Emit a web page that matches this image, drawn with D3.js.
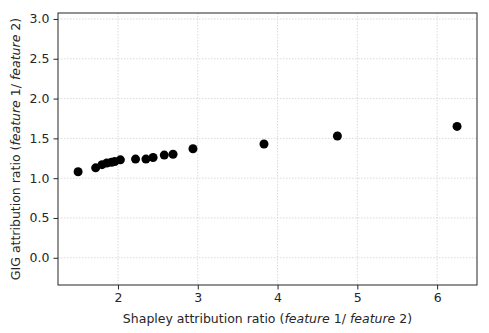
<!DOCTYPE html>
<html>
<head>
    <meta charset="utf-8">
    <style>
        body { margin: 0; background: #fff; }
        text { font-family: "DejaVu Sans", sans-serif; fill: #262626; }
    </style>
</head>
<body>
    <svg width="489" height="333"></svg>
    <script src="https://d3js.org/d3.v7.min.js"></script>
    <script>
        let shapleyRatio = [1.50, 1.72, 1.80, 1.86, 1.92, 1.96, 2.03, 2.22, 2.35, 2.44, 2.58, 2.69, 2.94, 3.83, 4.75, 6.25];
        let gigRatio = [1.08, 1.13, 1.17, 1.19, 1.20, 1.21, 1.23, 1.24, 1.24, 1.26, 1.29, 1.30, 1.37, 1.43, 1.53, 1.65];
        let xTicks = [2, 3, 4, 5, 6];
        let yTicks = [0.0, 0.5, 1.0, 1.5, 2.0, 2.5, 3.0];

        let plotLeft = 58, plotRight = 477, plotTop = 13, plotBottom = 285;
        let fontSize = "12.5px";
        let svg = d3.select("svg");
        let x = d3.scaleLinear().domain([1.248, 6.5]).range([plotLeft, plotRight]);
        let y = d3.scaleLinear().domain([-0.342, 3.075]).range([plotBottom, plotTop]);

        // grid
        let grid = svg.append("g")
            .attr("stroke", "#dadada")
            .attr("stroke-width", 1)
            .attr("stroke-dasharray", "1.5,1.5");
        grid.selectAll(".gx").data(xTicks).enter().append("line")
            .attr("x1", d => x(d)).attr("x2", d => x(d))
            .attr("y1", plotTop).attr("y2", plotBottom);
        grid.selectAll(".gy").data(yTicks).enter().append("line")
            .attr("x1", plotLeft).attr("x2", plotRight)
            .attr("y1", d => y(d)).attr("y2", d => y(d));

        // points
        svg.append("g").selectAll("circle")
            .data(shapleyRatio)
            .enter()
            .append("circle")
            .attr("cx", d => x(d))
            .attr("cy", (d, i) => y(gigRatio[i]))
            .attr("r", 4.5)
            .style("fill", "#000");

        // axes
        let xAxis = svg.append("g")
            .attr("transform", `translate(0,${plotBottom})`)
            .call(d3.axisBottom(x).tickValues(xTicks).tickFormat(d3.format("d")).tickSize(4.5).tickPadding(4));
        let yAxis = svg.append("g")
            .attr("transform", `translate(${plotLeft},0)`)
            .call(d3.axisLeft(y).tickValues(yTicks).tickFormat(d3.format(".1f")).tickSize(4.5).tickPadding(4));
        [xAxis, yAxis].forEach(a => {
            a.attr("font-size", null).attr("font-family", null);
            a.select(".domain").remove();
            a.selectAll("line").attr("stroke", "#262626").attr("stroke-width", 1);
            a.selectAll("text").style("font-size", fontSize).attr("fill", "#262626");
        });

        // frame
        svg.append("rect")
            .attr("x", plotLeft).attr("y", plotTop)
            .attr("width", plotRight - plotLeft).attr("height", plotBottom - plotTop)
            .attr("fill", "none").attr("stroke", "#262626").attr("stroke-width", 1);

        // labels
        let xl = svg.append("text")
            .attr("x", (plotLeft + plotRight) / 2).attr("y", 323)
            .attr("text-anchor", "middle")
            .style("font-size", fontSize);
        xl.append("tspan").text("Shapley attribution ratio (");
        xl.append("tspan").attr("font-style", "italic").text("feature");
        xl.append("tspan").text(" 1/ ");
        xl.append("tspan").attr("font-style", "italic").text("feature");
        xl.append("tspan").text(" 2)");

        let yl = svg.append("text")
            .attr("transform", `translate(20,${(plotTop + plotBottom) / 2}) rotate(-90)`)
            .attr("text-anchor", "middle")
            .style("font-size", fontSize);
        yl.append("tspan").text("GIG attribution ratio (");
        yl.append("tspan").attr("font-style", "italic").text("feature");
        yl.append("tspan").text(" 1/ ");
        yl.append("tspan").attr("font-style", "italic").text("feature");
        yl.append("tspan").text(" 2)");
    </script>
</body>
</html>
